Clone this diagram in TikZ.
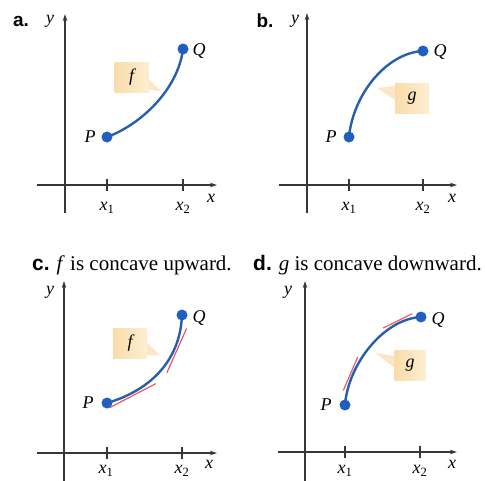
\documentclass[tikz,border=0pt]{standalone}
\usepackage{fontspec}
\setmainfont{Liberation Serif}
\newfontfamily\boldsans{Liberation Sans}
\usetikzlibrary{arrows.meta}
\definecolor{axisgray}{RGB}{55,55,55}
\definecolor{curveblue}{RGB}{40,95,170}
\definecolor{dotblue}{RGB}{30,95,195}
\definecolor{tanred}{RGB}{232,90,105}
\definecolor{boxL}{RGB}{250,220,170}
\definecolor{boxR}{RGB}{253,238,210}
\definecolor{wedgec}{RGB}{252,230,200}
\tikzset{
 axisline/.style={draw=axisgray, line width=1.1pt, -{Stealth[length=7pt,width=4.5pt]}},
 tickline/.style={draw=axisgray, line width=1.1pt},
 curve/.style={draw=curveblue, line width=2.4pt},
 dot/.style={circle, fill=dotblue, inner sep=0pt, minimum size=11pt},
 lab/.style={font=\fontsize{18}{20}\selectfont\itshape, inner sep=0pt},
 panel/.style={font=\boldsans\bfseries\fontsize{19}{22}\selectfont, inner sep=0pt},
 titletext/.style={font=\fontsize{21}{24}\selectfont, inner sep=0pt, anchor=base west},
 callout/.style={left color=boxL, right color=boxR, draw=none, minimum width=34pt, minimum height=30pt, inner sep=0pt, font=\fontsize{18}{20}\selectfont\itshape},
 wedge/.style={fill=wedgec, draw=none},
 tang/.style={draw=tanred, line width=1.2pt},
 tanbox/.style={sloped, inner sep=0pt, draw=none},
}
\begin{document}
\begin{tikzpicture}[x=1pt,y=-1pt]
\useasboundingbox (0,0) rectangle (485,480);

% ---------------- panel a ----------------
\node[panel] (la) at (21,21) {a.};
\draw[axisline] (65,213) -- (65,14);
\draw[axisline] (37,185) -- (217,185);
\draw[tickline] (107,179) -- (107,191);
\draw[tickline] (183,179) -- (183,191);
\node[lab] (ya) at (50,21) {y};
\node[lab] (xa) at (211,198) {x};
\node[lab] (x1a) at (107,208) {x\textsubscript{\upshape 1}};
\node[lab] (x2a) at (183,208) {x\textsubscript{\upshape 2}};
\fill[wedge] (149,79) -- (161,91) -- (149,90) -- cycle;
\node[callout] (fa) at (131.5,77) {f};
\node[dot] (Pa) at (107,137) {};
\node[dot] (Qa) at (183,49) {};
\draw[curve] (Pa.center) .. controls (140,125) and (178,90) .. (Qa.center);
\node[lab] (pla) at (90,137) {P};
\node[lab] (qla) at (199,51) {Q};

% ---------------- panel b ----------------
\node[panel] (lb) at (265,21) {b.};
\draw[axisline] (307,213) -- (307,13);
\draw[axisline] (279,185) -- (457,185);
\draw[tickline] (349,179) -- (349,191);
\draw[tickline] (423,179) -- (423,191);
\node[lab] (yb) at (295,21) {y};
\node[lab] (xb) at (452,198) {x};
\node[lab] (x1b) at (349,208) {x\textsubscript{\upshape 1}};
\node[lab] (x2b) at (423,208) {x\textsubscript{\upshape 2}};
\fill[wedge] (395,86) -- (377,88) -- (395,100) -- cycle;
\node[callout] (gb) at (412,98) {g};
\node[dot] (Pb) at (349,137) {};
\node[dot] (Qb) at (423,51) {};
\draw[curve] (Pb.center) .. controls (353,95) and (386,53) .. (Qb.center);
\node[lab] (plb) at (331,137) {P};
\node[lab] (qlb) at (440,52) {Q};

% ---------------- panel c ----------------
\node[titletext] (tc) at (32,270) {{\boldsans\bfseries c.} \textit{f} is concave upward.};
\draw[axisline] (64,482) -- (64,281);
\draw[axisline] (37,453) -- (217,453);
\draw[tickline] (107,447) -- (107,459);
\draw[tickline] (182,447) -- (182,459);
\node[lab] (yc) at (50,292) {y};
\node[lab] (xc) at (209,464) {x};
\node[lab] (x1c) at (106,471) {x\textsubscript{\upshape 1}};
\node[lab] (x2c) at (182,471) {x\textsubscript{\upshape 2}};
\fill[wedge] (147,343) -- (160,355) -- (147,355) -- cycle;
\node[callout] (fc) at (130,343) {f};
\node[dot] (Pc) at (107,403) {};
\node[dot] (Qc) at (182,315) {};
\draw[curve] (Pc.center) .. controls (145,392) and (180,365) .. (Qc.center)
  node[tanbox, pos=0.22, minimum width=50pt, minimum height=3pt] (tc1) {}
  node[tanbox, pos=0.74, minimum width=46pt, minimum height=3pt] (tc2) {};
\draw[tang] (tc1.south west) -- (tc1.south east);
\draw[tang] (tc2.south west) -- (tc2.south east);
\node[lab] (plc) at (88,403) {P};
\node[lab] (qlc) at (199,318) {Q};

% ---------------- panel d ----------------
\node[titletext] (td) at (253,270) {{\boldsans\bfseries d.} \textit{g} is concave downward.};
\draw[axisline] (305,482) -- (305,281);
\draw[axisline] (278,452) -- (457,452);
\draw[tickline] (345,446) -- (345,458);
\draw[tickline] (420,446) -- (420,458);
\node[lab] (yd) at (288,292) {y};
\node[lab] (xd) at (452,464) {x};
\node[lab] (x1d) at (345,471) {x\textsubscript{\upshape 1}};
\node[lab] (x2d) at (420,471) {x\textsubscript{\upshape 2}};
\fill[wedge] (395,356) -- (375,353) -- (395,368) -- cycle;
\node[callout, minimum width=31pt] (gd) at (410,365) {g};
\node[dot] (Pd) at (345,405) {};
\node[dot] (Qd) at (421,317) {};
\draw[curve] (Pd.center) .. controls (348,365) and (383,319) .. (Qd.center)
  node[tanbox, pos=0.25, minimum width=34pt, minimum height=2.5pt] (td1) {}
  node[tanbox, pos=0.80, minimum width=30pt, minimum height=2.5pt] (td2) {};
\draw[tang] (td1.north west) -- (td1.north east);
\draw[tang] (td2.north west) -- (td2.north east);
\node[lab] (pld) at (326,405) {P};
\node[lab] (qld) at (438,320) {Q};
\end{tikzpicture}
\end{document}
